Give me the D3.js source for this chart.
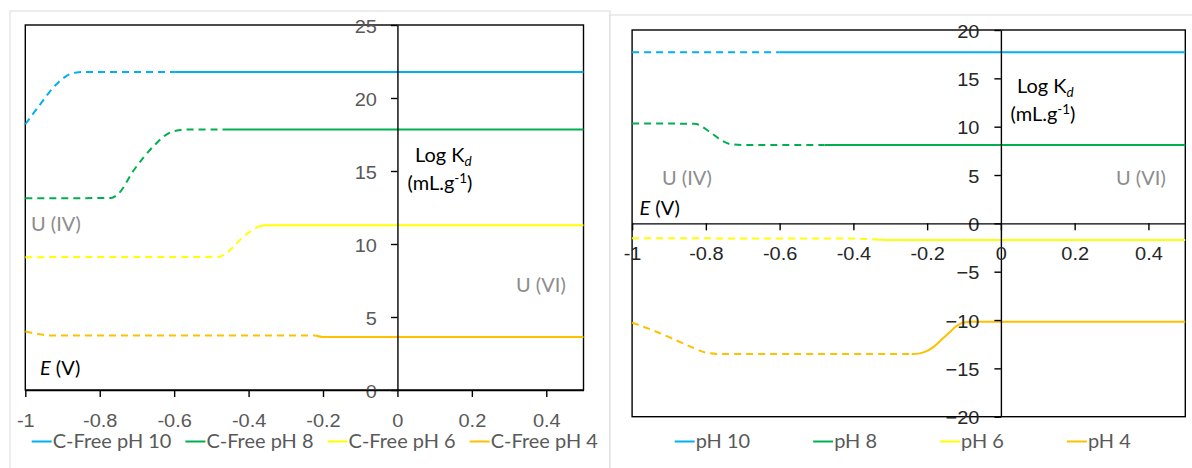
<!DOCTYPE html>
<html><head><meta charset="utf-8">
<script src="https://cdn.jsdelivr.net/npm/d3@7"></script>
<style>
html,body{margin:0;padding:0;background:#fff;}
svg{display:block;font-family:Lato,"Open Sans",sans-serif;}
</style></head><body>
<svg id="chart" width="1192" height="468"></svg>
<script>
// ---- axis ticks -------------------------------------------------------
const xTicks = [-1, -0.8, -0.6, -0.4, -0.2, 0, 0.2, 0.4];
const xTickLabels = ["-1", "-0.8", "-0.6", "-0.4", "-0.2", "0", "0.2", "0.4"];
const yTicksFree = [0, 5, 10, 15, 20, 25];
const yTicksCarb = [-20, -15, -10, -5, 0, 5, 10, 15, 20];

// ---- series names and colours ----------------------------------------
const namesFree = ["C-Free pH 10", "C-Free pH 8", "C-Free pH 6", "C-Free pH 4"];
const namesCarb = ["pH 10", "pH 8", "pH 6", "pH 4"];
const seriesColors = ["#00B0F0", "#00B050", "#FFFF00", "#FFC000"];

// ---- carbonate-free system: potential E (V) and log Kd (mL/g) ----------
const eFreePh10 = [-1, -0.965, -0.914, -0.883, -0.862, -0.84, -0.6, 0.5];
const kdFreePh10 = [18.2, 19.4, 21.0, 21.6, 21.75, 21.78, 21.78, 21.78];
const eFreePh8 = [-1, -0.77, -0.749, -0.708, -0.657, -0.615, -0.584, -0.56, -0.47, 0.5];
const kdFreePh8 = [13.13, 13.15, 13.47, 15.07, 16.66, 17.58, 17.81, 17.85, 17.85, 17.85];
const eFreePh6 = [-1, -0.481, -0.45, -0.414, -0.373, -0.355, 0.5];
const kdFreePh6 = [9.1, 9.12, 9.59, 10.5, 11.2, 11.28, 11.28];
const eFreePh4 = [-1, -0.97, -0.93, -0.22, -0.2, 0.5];
const kdFreePh4 = [4.0, 3.85, 3.73, 3.73, 3.63, 3.63];
// potential where each curve passes from dashed to solid
const breakFree = [-0.6, -0.47, -0.373, -0.22];

// ---- carbonate system -------------------------------------------------
const eCarbPh10 = [-1, -0.6, 0.5];
const kdCarbPh10 = [17.69, 17.69, 17.69];
const eCarbPh8 = [-1, -0.831, -0.79, -0.759, -0.734, -0.7, -0.478, 0.5];
const kdCarbPh8 = [10.34, 10.3, 9.48, 8.62, 8.2, 8.1, 8.1, 8.1];
const eCarbPh6 = [-1, -0.4, -0.34, -0.3, 0.5];
const kdCarbPh6 = [-1.55, -1.57, -1.68, -1.73, -1.73];
const eCarbPh4 = [-1, -0.934, -0.882, -0.831, -0.8, -0.759, -0.242, -0.22, -0.2, -0.18, -0.16, -0.14, -0.12, -0.1, -0.08, 0.5];
const kdCarbPh4 = [-10.28, -11.21, -12.07, -12.93, -13.38, -13.52, -13.52, -13.45, -13.2, -12.7, -12.0, -11.3, -10.6, -10.25, -10.18, -10.18];
const breakCarb = [-0.6, -0.478, -0.34, -0.242];

// ---- drawing ----------------------------------------------------------
const SX = 1.08;     // horizontal stretch of all text
const FS = 18.5;     // base font size
const svg = d3.select("#chart");

function label(g, x, y, parts, opts = {}) {
  const t = g.append("text")
    .attr("transform", `translate(${x},${y}) scale(${SX},1)`)
    .attr("text-anchor", opts.anchor || "start")
    .attr("fill", opts.fill || "#000")
    .attr("font-size", opts.size || FS);
  let shift = 0;
  parts.forEach(p => {
    const target = p.sub ? 4 : p.sup ? -7 : 0;
    const ts = t.append("tspan").text(p.t).attr("dy", target - shift);
    if (p.sub || p.sup) ts.attr("font-size", 12.5);
    if (p.italic) ts.attr("font-style", "italic");
    shift = target;
  });
  return t;
}

function zip(e, k) { return e.map((v, i) => [v, k[i]]); }

function drawPanel(cfg) {
  const g = svg.append("g");
  // outer chart frame
  g.append("rect").attr("x", cfg.frame[0]).attr("y", cfg.frame[1])
    .attr("width", cfg.frame[2]).attr("height", cfg.frame[3])
    .attr("fill", "#fff").attr("stroke", "#d9d9d9").attr("stroke-width", 1);

  const x = d3.scaleLinear().domain([-1, 0.5]).range([cfg.left, cfg.right]);
  const y = d3.scaleLinear().domain(cfg.yDomain).range([cfg.bottom, cfg.top]);

  // plot-area border
  g.append("rect").attr("x", cfg.left).attr("y", cfg.top)
    .attr("width", cfg.right - cfg.left).attr("height", cfg.bottom - cfg.top)
    .attr("fill", "none").attr("stroke", "#000").attr("stroke-width", 1.4);

  // series: dashed over the U(IV) range, solid afterwards
  const line = d3.line().x(d => x(d[0])).y(d => y(d[1])).curve(d3.curveMonotoneX);
  cfg.series.forEach((s, i) => {
    const pts = zip(s[0], s[1]);
    const brk = cfg.breaks[i];
    g.append("path").datum(pts.filter(d => d[0] <= brk)).attr("d", line)
      .attr("fill", "none").attr("stroke", seriesColors[i]).attr("stroke-width", 2)
      .attr("stroke-dasharray", "7,5");
    g.append("path").datum(pts.filter(d => d[0] >= brk)).attr("d", line)
      .attr("fill", "none").attr("stroke", seriesColors[i]).attr("stroke-width", 2);
  });

  // vertical axis through E = 0
  const yAxis = g.append("g").attr("transform", `translate(${x(0)},0)`)
    .call(d3.axisLeft(y).tickValues(cfg.yTicks).tickSize(6.5).tickSizeOuter(0).tickFormat(d3.format("d")));
  yAxis.select(".domain").attr("stroke", "#000").attr("stroke-width", 1.4);
  yAxis.selectAll(".tick line").attr("stroke", "#000").attr("stroke-width", 1.4);
  yAxis.selectAll(".tick text").attr("x", null).attr("dy", null)
    .attr("transform", `translate(${cfg.yLabelDx},${cfg.yLabelDy}) scale(${SX},1)`)
    .attr("fill", cfg.tickColor).attr("font-size", FS).attr("font-family", null);

  // horizontal axis through log Kd = 0
  const xAxis = g.append("g").attr("transform", `translate(0,${y(0)})`)
    .call(d3.axisBottom(x).tickValues(xTicks).tickSize(7).tickSizeOuter(0)
      .tickFormat((d, i) => xTickLabels[i]));
  xAxis.select(".domain").attr("stroke", "#000").attr("stroke-width", 1.4);
  xAxis.selectAll(".tick line").attr("stroke", "#000").attr("stroke-width", 1.4);
  xAxis.selectAll(".tick text").attr("y", null).attr("dy", null)
    .attr("transform", `translate(0,${cfg.xLabelDy}) scale(${SX},1)`)
    .attr("fill", cfg.tickColor).attr("font-size", FS).attr("font-family", null);

  // annotations
  cfg.notes.forEach(n => label(g, n.x, n.y, n.parts, { fill: n.fill }));

  // legend laid out left to right
  let lx = cfg.legendX;
  cfg.names.forEach((name, i) => {
    g.append("line").attr("x1", lx).attr("x2", lx + 20)
      .attr("y1", cfg.legendY - 6.5).attr("y2", cfg.legendY - 6.5)
      .attr("stroke", seriesColors[i]).attr("stroke-width", 2);
    const t = label(g, lx + 21, cfg.legendY, [{ t: name }], { fill: "#595959" });
    lx += 21 + t.node().getComputedTextLength() * SX + cfg.legendGap;
  });
}

const grey = "#8c8c8c";
drawPanel({
  frame: [10, 11, 600, 470],
  left: 25.3, right: 583.5, top: 25, bottom: 390,
  yDomain: [0, 25], yTicks: yTicksFree,
  yLabelDx: -20.5, yLabelDy: 7, xLabelDy: 37,
  tickColor: "#595959",
  series: [[eFreePh10, kdFreePh10], [eFreePh8, kdFreePh8], [eFreePh6, kdFreePh6], [eFreePh4, kdFreePh4]],
  breaks: breakFree,
  names: namesFree, legendX: 31.7, legendY: 448, legendGap: 14,
  notes: [
    { x: 31, y: 231, fill: grey, parts: [{ t: "U (IV)" }] },
    { x: 516, y: 291.5, fill: grey, parts: [{ t: "U (VI)" }] },
    { x: 40, y: 374.5, fill: "#000", parts: [{ t: "E", italic: true }, { t: " (V)" }] },
    { x: 415, y: 161.5, fill: "#000", parts: [{ t: "Log K" }, { t: "d", sub: true, italic: true }] },
    { x: 407.5, y: 189.5, fill: "#000", parts: [{ t: "(mL.g" }, { t: "-1", sup: true }, { t: ")" }] }
  ]
});

drawPanel({
  frame: [610, 15, 600, 470],
  left: 632.1, right: 1185.3, top: 30, bottom: 416.7,
  yDomain: [-20, 20], yTicks: yTicksCarb,
  yLabelDx: -21.5, yLabelDy: 7, xLabelDy: 36.2,
  tickColor: "#262626",
  series: [[eCarbPh10, kdCarbPh10], [eCarbPh8, kdCarbPh8], [eCarbPh6, kdCarbPh6], [eCarbPh4, kdCarbPh4]],
  breaks: breakCarb,
  names: namesCarb, legendX: 674.7, legendY: 448, legendGap: 63,
  notes: [
    { x: 662, y: 184.5, fill: grey, parts: [{ t: "U (IV)" }] },
    { x: 1116, y: 184.5, fill: grey, parts: [{ t: "U (VI)" }] },
    { x: 639.5, y: 214.5, fill: "#000", parts: [{ t: "E", italic: true }, { t: " (V)" }] },
    { x: 1017, y: 92.7, fill: "#000", parts: [{ t: "Log K" }, { t: "d", sub: true, italic: true }] },
    { x: 1010.5, y: 120.5, fill: "#000", parts: [{ t: "(mL.g" }, { t: "-1", sup: true }, { t: ")" }] }
  ]
});
</script>
</body></html>
